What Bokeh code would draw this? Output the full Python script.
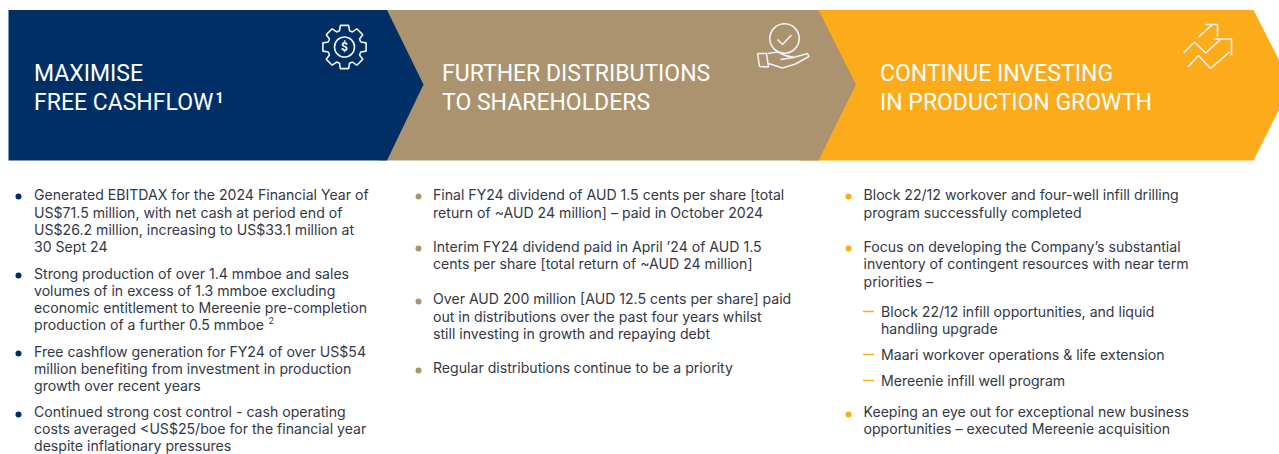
import math
from bokeh.plotting import figure
from bokeh.models import Range1d
from bokeh.core.properties import value
from bokeh.embed import file_html
from bokeh.resources import INLINE

NAVY, TAN, ORANGE = "#002F65", "#AB9370", "#FCAB1B"
INK = "#333848"
HEAD_FONT = "Roboto"
BODY_FONT = "Inter"
HEAD_SIZE = "23px"
BODY_SIZE = "14.1px"

headings = [
    ["MAXIMISE", "FREE CASHFLOW"],
    ["FURTHER DISTRIBUTIONS", "TO SHAREHOLDERS"],
    ["CONTINUE INVESTING", "IN PRODUCTION GROWTH"],
]
left_lines = [
    "Generated EBITDAX for the 2024 Financial Year of",
    "US$71.5 million, with net cash at period end of",
    "US$26.2 million, increasing to US$33.1 million at",
    "30 Sept 24",
    "Strong production of over 1.4 mmboe and sales",
    "volumes of in excess of 1.3 mmboe excluding",
    "economic entitlement to Mereenie pre-completion",
    "production of a further 0.5 mmboe",
    "Free cashflow generation for FY24 of over US$54",
    "million benefiting from investment in production",
    "growth over recent years",
    "Continued strong cost control - cash operating",
    "costs averaged <US$25/boe for the financial year",
    "despite inflationary pressures",
]
mid_lines = [
    "Final FY24 dividend of AUD 1.5 cents per share [total",
    "return of ~AUD 24 million] \u2013 paid in October 2024",
    "Interim FY24 dividend paid in April \u201924 of AUD 1.5",
    "cents per share [total return of ~AUD 24 million]",
    "Over AUD 200 million [AUD 12.5 cents per share] paid",
    "out in distributions over the past four years whilst",
    "still investing in growth and repaying debt",
    "Regular distributions continue to be a priority",
]
right_lines = [
    "Block 22/12 workover and four-well infill drilling",
    "program successfully completed",
    "Focus on developing the Company\u2019s substantial",
    "inventory of contingent resources with near term",
    "priorities \u2013",
    "Keeping an eye out for exceptional new business",
    "opportunities \u2013 executed Mereenie acquisition",
]
sub_lines = [
    "Block 22/12 infill opportunities, and liquid",
    "handling upgrade",
    "Maari workover operations & life extension",
    "Mereenie infill well program",
]

# ---- layout (page pixels) ----
left_y = [194, 211.5, 229, 246, 273, 290, 307, 324, 351, 368, 385, 411, 428, 445]
mid_y = [194, 211.5, 246, 263, 298, 315.5, 333, 367]
right_y = [194, 211.5, 246, 263, 281, 411, 428]
sub_y = [311, 328, 354, 380]

p = figure(width=1279, height=454, x_range=Range1d(0, 1279), y_range=Range1d(454, 0),
           toolbar_location=None, output_backend="svg", min_border=0,
           outline_line_color=None)
p.axis.visible = False
p.grid.visible = False
p.background_fill_color = "white"
p.border_fill_color = "white"

def chevron(x0, shoulder, tip):
    return [x0, shoulder, tip, shoulder, x0], [9.5, 9.5, 84, 160, 160]

for (x0, sh, tip), col in zip([(800, 1253, 1291), (380, 818, 855.5), (8, 386.5, 423)],
                              [ORANGE, TAN, NAVY]):
    xs, ys = chevron(x0, sh, tip)
    p.patch(xs, ys, fill_color=col, line_color=None)

def put(xs, ys, txt, color=INK, font=BODY_FONT, size=BODY_SIZE, style="normal"):
    p.text(xs, ys, text=txt, text_color=color, text_font=value(font),
           text_font_size=size, text_font_style=style,
           text_baseline="middle", text_align="left")

for x, lines in zip([33.5, 441.5, 879.5], headings):
    put([x, x], [72.5, 101.5], lines, "white", HEAD_FONT, HEAD_SIZE)
put([215], [97], ["1"], "white", HEAD_FONT, "14px", "bold")

put([33.5] * len(left_y), left_y, left_lines)
put([268], [320], ["2"], INK, BODY_FONT, "9px")
put([432.5] * len(mid_y), mid_y, mid_lines)
put([863] * len(right_y), right_y, right_lines)
put([880.5] * len(sub_y), sub_y, sub_lines)

p.scatter([18, 18, 18, 18], [196, 275, 353, 414], size=6, color=NAVY, line_color=None)
p.scatter([418, 418, 418, 418], [196, 248, 301, 370], size=6, color=TAN, line_color=None)
p.scatter([848, 848, 848], [196, 248, 414], size=6, color=ORANGE, line_color=None)
p.segment([862.5] * 3, [311, 354, 380], [873.5] * 3, [311, 354, 380], line_color=ORANGE, line_width=1.5)

# gear icon
gx, gy = 344, 46.5
pts = []
for i in range(8):
    a = i * math.pi / 4
    for da, r in [(-0.30, 17), (-0.19, 22), (0.19, 22), (0.30, 17)]:
        pts.append((gx + r * math.cos(a + da), gy + r * math.sin(a + da)))
pts.append(pts[0])
ICON = dict(line_color="#F1F1F4", line_width=1.6)
p.line([q[0] for q in pts], [q[1] for q in pts], **ICON)
p.circle([gx], [gy], radius=10, fill_color=None, **ICON)
p.text([gx], [gy], text=["$"], text_color="white", text_font=value("Roboto"), text_font_size="12px",
       text_font_style="bold", text_align="center", text_baseline="middle")

# hand icon
p.circle([784], [38], radius=14.7, fill_color=None, **ICON)
p.line([777, 782, 791], [39, 44, 34.5], **ICON)
p.line([757, 766, 768, 759, 757], [53, 53, 66.5, 66, 53], **ICON)
p.line([767, 777, 785, 793, 807, 808.5, 795, 782, 768], [53, 51.5, 55, 57, 53, 56, 63.5, 67.5, 63], **ICON)
p.line([785, 793, 780], [55, 57, 59], **ICON)

# arrows icon
p.line([1198, 1212], [36.5, 24], **ICON)
p.line([1205, 1217, 1217], [24, 24, 36], **ICON)
p.line([1183, 1194, 1205, 1220], [52.5, 41.5, 52.5, 39], **ICON)
p.line([1213, 1231, 1231], [38.5, 38.5, 55], **ICON)
p.line([1187.5, 1198, 1210, 1229], [66.5, 55, 68, 51.5], **ICON)

open("out.html", "w").write(file_html(p, INLINE))
